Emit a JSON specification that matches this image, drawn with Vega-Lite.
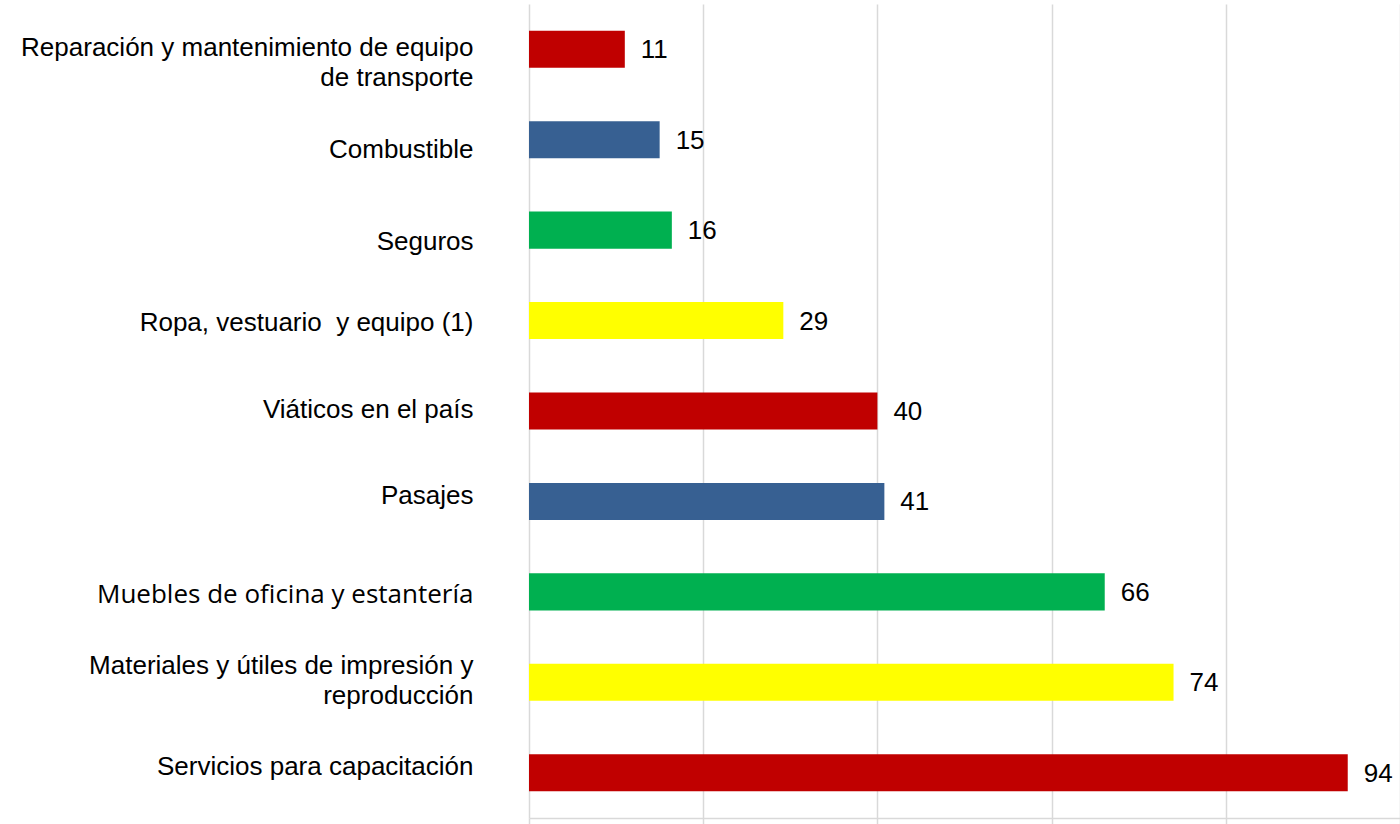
{
  "$schema": "https://vega.github.io/schema/vega-lite/v6.json",
  "autosize": "none",
  "width": 871,
  "height": 814,
  "padding": {"left": 529, "top": 4, "right": 0, "bottom": 6},
  "background": "white",
  "config": {"view": {"stroke": null}},
  "data": {
    "values": [
      {"cat": "Reparación y mantenimiento de equipo|de transporte", "value": 11, "color": "#C00000"},
      {"cat": "Combustible", "value": 15, "color": "#376092"},
      {"cat": "Seguros", "value": 16.4, "color": "#00B050"},
      {"cat": "Ropa, vestuario \u00a0y equipo (1)", "value": 29.2, "color": "#FFFF00"},
      {"cat": "Viáticos en el país", "value": 40, "color": "#C00000"},
      {"cat": "Pasajes", "value": 40.8, "color": "#376092"},
      {"cat": "Muebles de oficina y estantería", "value": 66.1, "color": "#00B050"},
      {"cat": "Materiales y útiles de impresión y|reproducción", "value": 74, "color": "#FFFF00"},
      {"cat": "Servicios para capacitación", "value": 94, "color": "#C00000"}
    ]
  },
  "encoding": {
    "y": {
      "field": "cat",
      "type": "nominal",
      "sort": null,
      "scale": {"paddingInner": 0.59, "paddingOuter": 0.295},
      "axis": {
        "title": null,
        "domain": false,
        "ticks": false,
        "labelExpr": "split(datum.label, '|')",
        "labelFont": {"condition": {"test": "datum.value === 'Muebles de oficina y estantería'", "value": "Open Sans"}, "value": "Liberation Sans"},
        "labelOffset": {
          "condition": [
            {"test": "datum.value === 'Reparación y mantenimiento de equipo|de transporte'", "value": -1},
            {"test": "datum.value === 'Combustible'", "value": 10},
            {"test": "datum.value === 'Seguros'", "value": 12},
            {"test": "datum.value === 'Ropa, vestuario \u00a0y equipo (1)'", "value": 2},
            {"test": "datum.value === 'Viáticos en el país'", "value": -1},
            {"test": "datum.value === 'Pasajes'", "value": -5},
            {"test": "datum.value === 'Muebles de oficina y estantería'", "value": 3},
            {"test": "datum.value === 'Materiales y útiles de impresión y|reproducción'", "value": -16},
            {"test": "datum.value === 'Servicios para capacitación'", "value": -6}
          ],
          "value": 0
        },
        "labelFontSize": 26,
        "labelLineHeight": 30,
        "labelColor": "#000000",
        "labelPadding": 56,
        "labelLimit": 600
      }
    },
    "x": {
      "field": "value",
      "type": "quantitative",
      "scale": {"domain": [0, 100], "nice": false},
      "axis": {
        "title": null,
        "values": [0, 20, 40, 60, 80, 100],
        "labels": false,
        "grid": true,
        "gridColor": "#D9D9D9",
        "gridWidth": 1.5,
        "domainColor": "#D9D9D9",
        "domainWidth": 1.5,
        "tickColor": "#D9D9D9",
        "tickWidth": 1.5,
        "tickSize": 8
      }
    }
  },
  "layer": [
    {
      "mark": {"type": "bar"},
      "encoding": {
        "color": {"field": "color", "type": "nominal", "scale": null}
      }
    },
    {
      "mark": {"type": "text", "align": "left", "baseline": "middle", "dx": 16, "dy": 1, "font": "Liberation Sans", "fontSize": 26, "color": "#000000"},
      "encoding": {
        "text": {"field": "value", "type": "quantitative", "format": ".0f"}
      }
    }
  ]
}
